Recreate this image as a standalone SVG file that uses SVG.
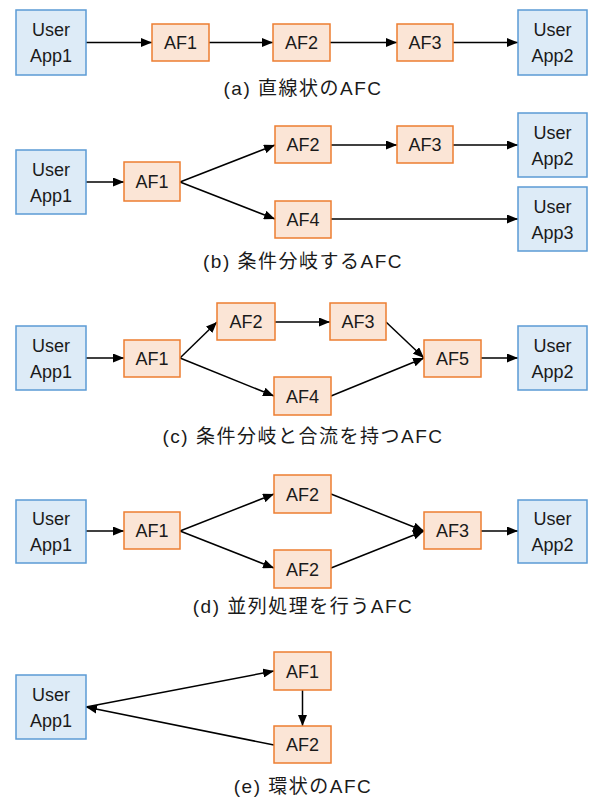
<svg xmlns="http://www.w3.org/2000/svg" width="590" height="801" viewBox="0 0 590 801">
<style>
.u{fill:#DDEBF7;stroke:#5B9BD5;stroke-width:1.5}
.a{fill:#FBE5D6;stroke:#ED7D31;stroke-width:1.5}
.t{font-family:"Liberation Sans",Arial,sans-serif;font-size:18px;fill:#1a1a1a;text-anchor:middle}
.c{font-family:"Liberation Sans","Noto Sans CJK JP",sans-serif;font-size:19px;fill:#1a1a1a;text-anchor:middle;letter-spacing:1.5px}
.e{stroke:#000;stroke-width:1.5;fill:none;marker-end:url(#ah)}
</style>
<defs>
<marker id="ah" markerUnits="userSpaceOnUse" markerWidth="11" markerHeight="9" refX="11" refY="4.5" orient="auto">
<path d="M0,0 L11,4.5 L0,9 z" fill="#000"/>
</marker>
</defs>
<rect width="590" height="801" fill="#fff"/>
<g id="connectors">
<line class="e" x1="86" y1="42.5" x2="152" y2="42.5"/>
<line class="e" x1="209" y1="42.5" x2="273" y2="42.5"/>
<line class="e" x1="330" y1="42.5" x2="397" y2="42.5"/>
<line class="e" x1="453" y1="42.5" x2="518" y2="42.5"/>
<line class="e" x1="86" y1="182" x2="124" y2="182"/>
<line class="e" x1="180" y1="182" x2="275" y2="145"/>
<line class="e" x1="180" y1="182" x2="275" y2="219"/>
<line class="e" x1="331" y1="145" x2="397" y2="145"/>
<line class="e" x1="453" y1="145" x2="518" y2="145"/>
<line class="e" x1="331" y1="219" x2="518" y2="219"/>
<line class="e" x1="86" y1="358" x2="124" y2="358"/>
<line class="e" x1="180" y1="358" x2="217" y2="322"/>
<line class="e" x1="180" y1="358" x2="274" y2="396"/>
<line class="e" x1="275" y1="322" x2="330" y2="322"/>
<line class="e" x1="386" y1="322" x2="424" y2="358"/>
<line class="e" x1="331" y1="396" x2="424" y2="358"/>
<line class="e" x1="481" y1="358" x2="518" y2="358"/>
<line class="e" x1="86" y1="531" x2="124" y2="531"/>
<line class="e" x1="180" y1="531" x2="274" y2="494"/>
<line class="e" x1="180" y1="531" x2="274" y2="568"/>
<line class="e" x1="331" y1="494" x2="424" y2="531"/>
<line class="e" x1="331" y1="568" x2="424" y2="531"/>
<line class="e" x1="481" y1="531" x2="518" y2="531"/>
<line class="e" x1="86" y1="707" x2="274" y2="671"/>
<line class="e" x1="302.5" y1="690" x2="302.5" y2="726"/>
<line class="e" x1="274" y1="745" x2="86" y2="707"/>
</g>
<g id="a_user1"><rect class="u" x="16" y="10" width="70" height="65"/><text class="t" x="51" y="36">User</text><text class="t" x="51" y="62">App1</text></g>
<g id="a_af1"><rect class="a" x="152" y="24" width="57" height="37"/><text class="t" x="180.5" y="49">AF1</text></g>
<g id="a_af2"><rect class="a" x="273" y="24" width="57" height="37"/><text class="t" x="301.5" y="49">AF2</text></g>
<g id="a_af3"><rect class="a" x="397" y="24" width="56" height="37"/><text class="t" x="425" y="49">AF3</text></g>
<g id="a_user2"><rect class="u" x="518" y="10" width="69" height="65"/><text class="t" x="552.5" y="36">User</text><text class="t" x="552.5" y="62">App2</text></g>
<text class="c" x="303" y="95">(a) 直線状のAFC</text>

<g id="b_user1"><rect class="u" x="16" y="150" width="70" height="64"/><text class="t" x="51" y="176">User</text><text class="t" x="51" y="202">App1</text></g>
<g id="b_af1"><rect class="a" x="124" y="162" width="56" height="39"/><text class="t" x="152" y="188">AF1</text></g>
<g id="b_af2"><rect class="a" x="275" y="126" width="56" height="37"/><text class="t" x="303" y="151">AF2</text></g>
<g id="b_af3"><rect class="a" x="397" y="126" width="56" height="37"/><text class="t" x="425" y="151">AF3</text></g>
<g id="b_af4"><rect class="a" x="275" y="201" width="56" height="37"/><text class="t" x="303" y="226">AF4</text></g>
<g id="b_user2"><rect class="u" x="518" y="113" width="69" height="64"/><text class="t" x="552.5" y="139">User</text><text class="t" x="552.5" y="165">App2</text></g>
<g id="b_user3"><rect class="u" x="518" y="187" width="69" height="64"/><text class="t" x="552.5" y="213">User</text><text class="t" x="552.5" y="239">App3</text></g>
<text class="c" x="303" y="268">(b) 条件分岐するAFC</text>

<g id="c_user1"><rect class="u" x="16" y="326" width="70" height="64"/><text class="t" x="51" y="352">User</text><text class="t" x="51" y="378">App1</text></g>
<g id="c_af1"><rect class="a" x="124" y="340" width="56" height="37"/><text class="t" x="152" y="365">AF1</text></g>
<g id="c_af2"><rect class="a" x="217" y="303" width="58" height="37"/><text class="t" x="246" y="328">AF2</text></g>
<g id="c_af3"><rect class="a" x="330" y="303" width="56" height="37"/><text class="t" x="358" y="328">AF3</text></g>
<g id="c_af4"><rect class="a" x="274" y="377" width="57" height="38"/><text class="t" x="302.5" y="403">AF4</text></g>
<g id="c_af5"><rect class="a" x="424" y="340" width="57" height="37"/><text class="t" x="452.5" y="365">AF5</text></g>
<g id="c_user2"><rect class="u" x="518" y="326" width="69" height="64"/><text class="t" x="552.5" y="352">User</text><text class="t" x="552.5" y="378">App2</text></g>
<text class="c" x="303" y="443">(c) 条件分岐と合流を持つAFC</text>

<g id="d_user1"><rect class="u" x="16" y="500" width="70" height="63"/><text class="t" x="51" y="525">User</text><text class="t" x="51" y="551">App1</text></g>
<g id="d_af1"><rect class="a" x="124" y="512" width="56" height="37"/><text class="t" x="152" y="537">AF1</text></g>
<g id="d_af2a"><rect class="a" x="274" y="475" width="57" height="38"/><text class="t" x="302.5" y="501">AF2</text></g>
<g id="d_af2b"><rect class="a" x="274" y="550" width="57" height="38"/><text class="t" x="302.5" y="576">AF2</text></g>
<g id="d_af3"><rect class="a" x="424" y="512" width="57" height="37"/><text class="t" x="452.5" y="537">AF3</text></g>
<g id="d_user2"><rect class="u" x="518" y="500" width="69" height="63"/><text class="t" x="552.5" y="525">User</text><text class="t" x="552.5" y="551">App2</text></g>
<text class="c" x="303" y="613">(d) 並列処理を行うAFC</text>

<g id="e_user1"><rect class="u" x="16" y="675" width="70" height="64"/><text class="t" x="51" y="701">User</text><text class="t" x="51" y="727">App1</text></g>
<g id="e_af1"><rect class="a" x="274" y="652" width="57" height="38"/><text class="t" x="302.5" y="678">AF1</text></g>
<g id="e_af2"><rect class="a" x="274" y="726" width="57" height="37"/><text class="t" x="302.5" y="751">AF2</text></g>
<text class="c" x="303" y="793">(e) 環状のAFC</text>
</svg>
